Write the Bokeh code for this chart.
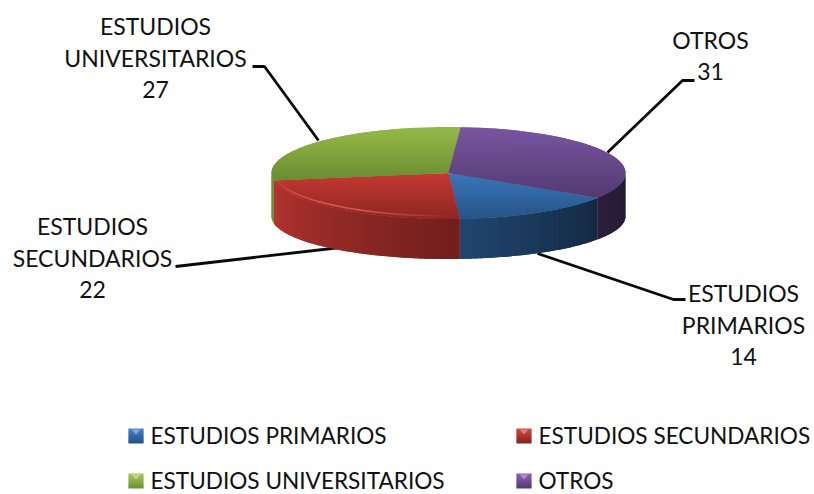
import numpy as np
from bokeh.plotting import figure
from bokeh.models import Range1d
from bokeh.core.properties import value
from bokeh.embed import file_html
from bokeh.resources import INLINE

# --- data ---
categories = ["ESTUDIOS PRIMARIOS", "ESTUDIOS SECUNDARIOS", "ESTUDIOS UNIVERSITARIOS", "OTROS"]
values = [14, 22, 27, 31]
label_lines = [["ESTUDIOS", "PRIMARIOS", "14"], ["ESTUDIOS", "SECUNDARIOS", "22"],
               ["ESTUDIOS", "UNIVERSITARIOS", "27"], ["OTROS", "31"]]

# --- style ---
FONT = "Lato"
FS = "23px"
LEG_FS = "22.6px"
top_cols = [((58, 118, 188), (38, 84, 134)), ((198, 56, 52), (142, 38, 34)),
            ((150, 186, 72), (106, 140, 50)), ((120, 86, 160), (84, 58, 114))]
side_cols = [((32, 70, 112), (20, 40, 66)), ((180, 52, 48), (112, 30, 28)),
             ((112, 150, 50), (100, 135, 45)), ((44, 30, 60), (36, 26, 52))]
legend_cols = [((70, 130, 200), (35, 80, 130)), ((205, 70, 65), (135, 35, 32)),
               ((165, 200, 90), (110, 145, 50)), ((135, 100, 175), (85, 58, 118))]
CX, CY, RX, RY = 448.0, 172.5, 177.0, 46.0
BY, BRY = 216.0, 42.5
START = 122.7


def hexc(a, b, t):
    t = min(max(t, 0.0), 1.0)
    return "#%02x%02x%02x" % tuple(int(round(x + (y - x) * t)) for x, y in zip(a, b))


def top_pt(a):
    r = np.radians(a)
    return CX + RX * np.sin(r), CY - RY * np.cos(r)


def bot_pt(a):
    r = np.radians(a)
    return CX + RX * np.sin(r), BY - BRY * np.cos(r)


def clip(poly, y, keep_below):
    out = []
    n = len(poly)
    for i in range(n):
        p0, p1 = poly[i], poly[(i + 1) % n]
        in0 = (p0[1] >= y) if keep_below else (p0[1] <= y)
        in1 = (p1[1] >= y) if keep_below else (p1[1] <= y)
        if in0:
            out.append(p0)
        if in0 != in1:
            t = (y - p0[1]) / (p1[1] - p0[1])
            out.append((p0[0] + (p1[0] - p0[0]) * t, y))
    return out


p = figure(width=814, height=494, output_backend="svg", toolbar_location=None,
           x_range=Range1d(0, 814), y_range=Range1d(494, 0), min_border=0)
p.axis.visible = False
p.grid.visible = False
p.outline_line_color = None

total = sum(values)
edges = list(np.cumsum([0] + values) / total * 360.0 + START)

# leader lines (behind the pie)
leaders = [([537, 673, 685], [253, 299, 299]), ([175, 340], [266, 247]),
           ([252, 264, 318], [66, 66, 140]), ([607, 682, 694], [152, 80, 80])]
for xs, ys in leaders:
    p.line(xs, ys, line_color="#0a0a0a", line_width=2.8)

# side wall: visible between 90 and 270 degrees (also one turn later)
for i in range(4):
    for turn in (0.0, 360.0):
        a0, a1 = edges[i], edges[i + 1]
        lo, hi = max(a0, 90.0 + turn), min(a1, 270.0 + turn)
        if lo >= hi:
            continue
        steps = max(2, int((hi - lo) / 2.0))
        grid = np.linspace(lo, hi, steps + 1)
        xs, ys, cols = [], [], []
        for j in range(steps):
            end = grid[min(j + 2, steps)]
            aa = np.linspace(grid[j], end, 5)
            t = [top_pt(a) for a in aa]
            b = [bot_pt(a) for a in aa[::-1]]
            xs.append([q[0] for q in t + b])
            ys.append([q[1] for q in t + b])
            cols.append(hexc(side_cols[i][0], side_cols[i][1], (hi - (grid[j] + grid[j + 1]) / 2) / (hi - lo)))
        p.patches(xs, ys, fill_color=cols, line_color=None)

# top face: vertical gradient per slice
for i in range(4):
    a0, a1 = edges[i], edges[i + 1]
    aa = np.linspace(a0, a1, 90)
    poly = [(CX, CY)] + [top_pt(a) for a in aa]
    ymin = min(q[1] for q in poly)
    ymax = max(q[1] for q in poly)
    n = max(4, int((ymax - ymin) / 1.5))
    ticks = np.linspace(ymin, ymax, n + 1)
    xs, ys, cols = [], [], []
    for j in range(n):
        c = clip(clip(poly, ticks[j], True), ticks[min(j + 2, n)], False)
        if len(c) < 3:
            continue
        xs.append([q[0] for q in c])
        ys.append([q[1] for q in c])
        cols.append(hexc(top_cols[i][0], top_cols[i][1], (j + 0.5) / n))
    p.patches(xs, ys, fill_color=cols, line_color=None)

# bevel highlight on the front rim of the red slice
aa = np.linspace(edges[1] + 4, edges[2] - 0.5, 40)
hx = [CX + (RX - 3) * np.sin(np.radians(a)) for a in aa]
hy = [CY - (RY - 3) * np.cos(np.radians(a)) for a in aa]
for j in range(len(aa) - 1):
    t = j / (len(aa) - 1)
    p.line(hx[j:j + 2], hy[j:j + 2], line_color="#e0605a", line_alpha=0.1 + 0.8 * (1 - abs(2 * t - 1) ** 1.5),
           line_width=1.6)

# data labels
label_pos = [(743, [292, 324, 356]), (92, [225, 257, 289]), (155, [25, 57, 89]), (710, [39, 71])]
for (x, ys), lines in zip(label_pos, label_lines):
    p.text([x] * len(lines), ys, text=lines, text_font=value(FONT), text_font_size=value(FS),
           text_color="#111111", text_align="center", text_baseline="middle")

# legend
leg_pos = [(128, 428), (516, 428), (128, 473), (516, 473)]
for (lx, ly), name, col in zip(leg_pos, categories, legend_cols):
    xs, ys, cols = [], [], []
    for j in range(15):
        xs.append([lx, lx + 15, lx + 15, lx])
        ys.append([ly + j, ly + j, ly + j + 1.5, ly + j + 1.5] if j < 14 else [ly + j, ly + j, ly + j + 1, ly + j + 1])
        cols.append(hexc(col[0], col[1], j / 14))
    p.patches(xs, ys, fill_color=cols, line_color=None)
    p.patch([lx + 3, lx + 12, lx + 7.5], [ly + 1, ly + 1, ly + 6], fill_color=hexc(col[0], (255, 255, 255), 0.3),
            line_color=None)
    p.text([lx + 22], [ly + 6.5], text=[name], text_font=value(FONT), text_font_size=value(LEG_FS),
           text_color="#111111", text_align="left", text_baseline="middle")

open("out.html", "w").write(file_html(p, INLINE))
